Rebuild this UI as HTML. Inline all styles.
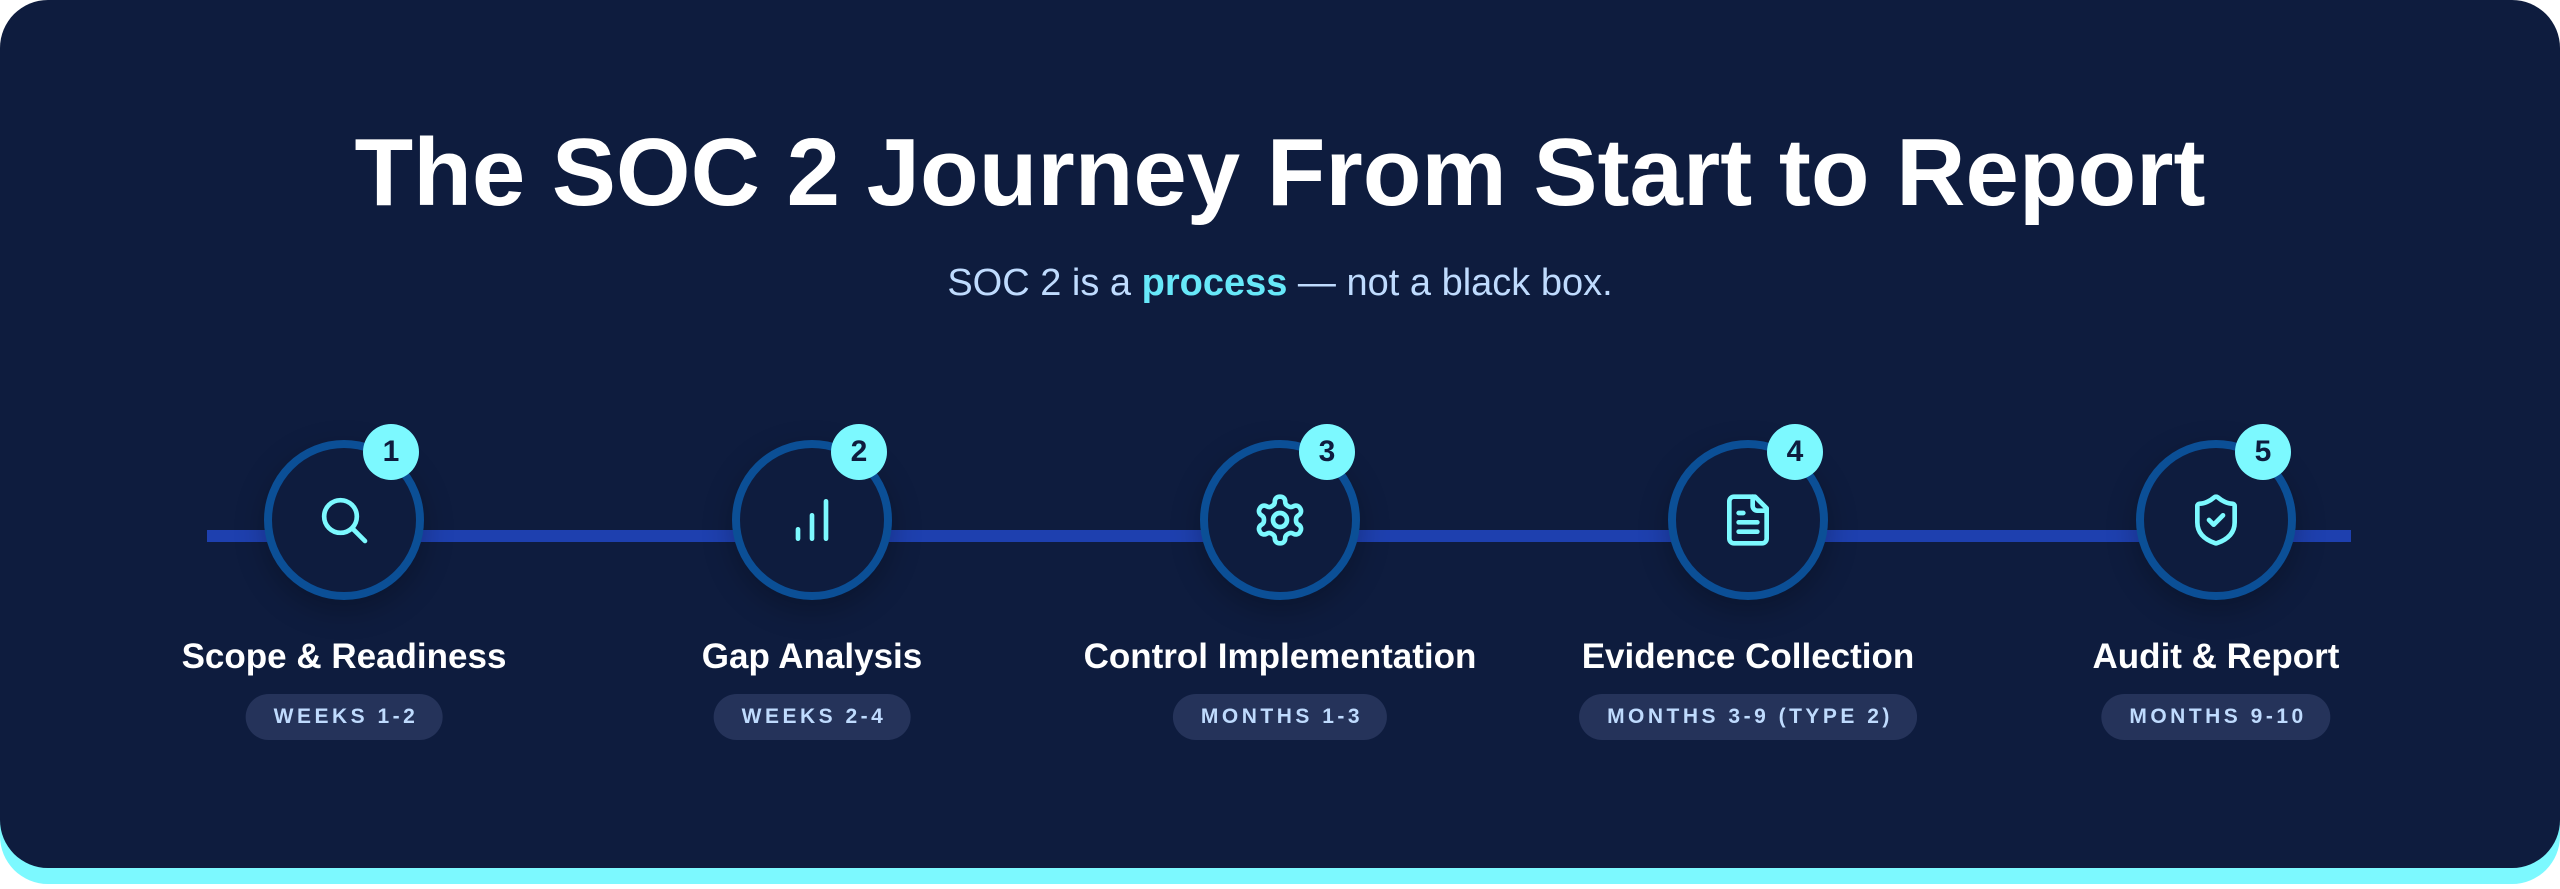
<!DOCTYPE html>
<html><head><meta charset="utf-8"><style>
*{margin:0;padding:0;box-sizing:border-box}
body{width:2560px;height:889px;background:#fff;position:relative;overflow:hidden;font-family:"Liberation Sans",sans-serif}
.cy{position:absolute;left:0;top:16px;width:2560px;height:868px;background:#7cf9ff;border-radius:48px}
.panel{position:absolute;left:0;top:0;width:2560px;height:868px;background:#0e1c3e;border-radius:48px}
h1{position:absolute;top:118px;left:0;width:2560px;text-align:center;color:#fff;font-size:96px;font-weight:bold;letter-spacing:0px}
.sub{position:absolute;top:262px;left:0;width:2560px;text-align:center;color:#bfdbfe;font-size:38px}
.sub b{color:#67e8f9}
.line{position:absolute;left:207px;top:530px;width:2144px;height:12px;background:#1e40af}
.step{position:absolute;top:0;width:0}
.circ{position:absolute;left:-80px;top:440px;width:160px;height:160px;border-radius:50%;border:8px solid #0b4f96;background:#0e1c3e;box-shadow:0 10px 30px rgba(0,0,0,.25)}
.circ svg{position:absolute;left:44px;top:44px}
.badge{position:absolute;left:19px;top:424px;width:56px;height:56px;border-radius:50%;background:#7cf9ff;color:#0e1c3e;font-weight:bold;font-size:30px;text-align:center;line-height:56px}
.lab{position:absolute;left:-300px;width:600px;top:637px;text-align:center;color:#fff;font-weight:bold;font-size:35px;white-space:nowrap}
.pill{position:absolute;top:694px;height:46px;transform:translateX(-50%);background:#25335a;border-radius:23px;color:#bfdbfe;font-weight:bold;font-size:21px;letter-spacing:3.5px;line-height:46px;padding:0 24px 0 28px;white-space:nowrap}
</style></head><body>
<div class="cy"></div><div class="panel"></div>
<h1>The SOC 2 Journey From Start to Report</h1>
<div class="sub">SOC 2 is a <b>process</b> — not a black box.</div>
<div class="line"></div>

<div class="step" style="left:344px">
<div class="circ"><svg width="56" height="56" viewBox="0 0 24 24" fill="none" stroke="#7cf9ff" stroke-width="2" stroke-linecap="round"><circle cx="10.5" cy="10.5" r="7"/><path d="M15.5 15.5L21 21"/></svg></div>
<div class="badge">1</div><div class="lab">Scope &amp; Readiness</div><div class="pill">WEEKS 1-2</div></div>

<div class="step" style="left:812px">
<div class="circ"><svg width="56" height="56" viewBox="0 0 24 24" fill="none" stroke="#7cf9ff" stroke-width="2" stroke-linecap="round"><path d="M6 20v-4M12 20V10M18 20V4"/></svg></div>
<div class="badge">2</div><div class="lab">Gap Analysis</div><div class="pill">WEEKS 2-4</div></div>

<div class="step" style="left:1280px">
<div class="circ"><svg width="56" height="56" viewBox="0 0 24 24" fill="none" stroke="#7cf9ff" stroke-width="2" stroke-linecap="round" stroke-linejoin="round"><path d="M12.22 2h-.44a2 2 0 0 0-2 2v.18a2 2 0 0 1-1 1.73l-.43.25a2 2 0 0 1-2 0l-.15-.08a2 2 0 0 0-2.73.73l-.22.38a2 2 0 0 0 .73 2.730l.15.1a2 2 0 0 1 1 1.72v.51a2 2 0 0 1-1 1.74l-.15.09a2 2 0 0 0-.73 2.73l.22.38a2 2 0 0 0 2.73.73l.15-.08a2 2 0 0 1 2 0l.43.25a2 2 0 0 1 1 1.73V20a2 2 0 0 0 2 2h.44a2 2 0 0 0 2-2v-.18a2 2 0 0 1 1-1.73l.43-.25a2 2 0 0 1 2 0l.15.08a2 2 0 0 0 2.73-.73l.22-.39a2 2 0 0 0-.73-2.73l-.15-.08a2 2 0 0 1-1-1.74v-.5a2 2 0 0 1 1-1.74l.15-.09a2 2 0 0 0 .73-2.73l-.22-.38a2 2 0 0 0-2.73-.73l-.15.08a2 2 0 0 1-2 0l-.43-.25a2 2 0 0 1-1-1.73V4a2 2 0 0 0-2-2z"/><circle cx="12" cy="12" r="3"/></svg></div>
<div class="badge">3</div><div class="lab">Control Implementation</div><div class="pill">MONTHS 1-3</div></div>

<div class="step" style="left:1748px">
<div class="circ"><svg width="56" height="56" viewBox="0 0 24 24" fill="none" stroke="#7cf9ff" stroke-width="2" stroke-linecap="round" stroke-linejoin="round"><path d="M15 2H6a2 2 0 0 0-2 2v16a2 2 0 0 0 2 2h12a2 2 0 0 0 2-2V7z"/><path d="M14 2v4a2 2 0 0 0 2 2h4M16 13H8M16 17H8M10 9H8"/></svg></div>
<div class="badge">4</div><div class="lab">Evidence Collection</div><div class="pill">MONTHS 3-9 (TYPE 2)</div></div>

<div class="step" style="left:2216px">
<div class="circ"><svg width="56" height="56" viewBox="0 0 24 24" fill="none" stroke="#7cf9ff" stroke-width="2" stroke-linecap="round" stroke-linejoin="round"><path d="M20 13c0 5-3.5 7.5-7.66 8.95a1 1 0 0 1-.67-.01C7.5 20.5 4 18 4 13V6a1 1 0 0 1 1-1c2 0 4.5-1.2 6.240-2.72a1.17 1.17 0 0 1 1.52 0C14.51 3.81 17 5 19 5a1 1 0 0 1 1 1z"/><path d="M9 12l2 2 4-4"/></svg></div>
<div class="badge">5</div><div class="lab">Audit &amp; Report</div><div class="pill">MONTHS 9-10</div></div>
</body></html>
